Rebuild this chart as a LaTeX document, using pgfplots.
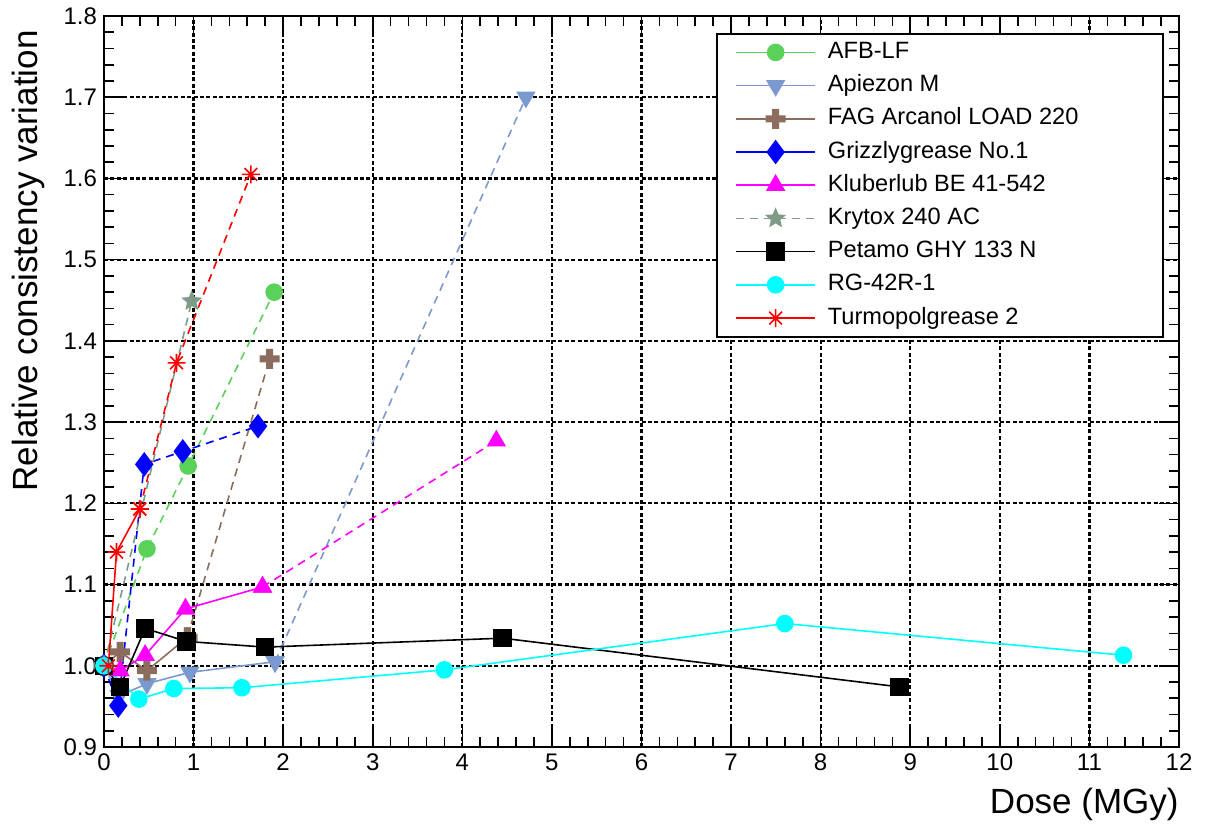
\documentclass[border=0pt]{standalone}
\usepackage{pgfplots}
\pgfplotsset{compat=1.18}
\usepackage{fontspec}
\setmainfont{Liberation Sans}
\usetikzlibrary{plotmarks}

\definecolor{cafb}{RGB}{90,210,90}
\definecolor{capi}{RGB}{122,153,207}
\definecolor{cfag}{RGB}{140,108,92}
\definecolor{cgri}{RGB}{0,0,255}
\definecolor{cklu}{RGB}{255,0,255}
\definecolor{ckry}{RGB}{125,155,135}
\definecolor{cpet}{RGB}{0,0,0}
\definecolor{crg}{RGB}{0,255,255}
\definecolor{ctur}{RGB}{255,0,0}

\pgfdeclareplotmark{fstar}{%
 \pgfpathmoveto{\pgfpointpolar{90}{\pgfplotmarksize}}%
 \pgfpathlineto{\pgfpointpolar{126}{0.45\pgfplotmarksize}}%
 \pgfpathlineto{\pgfpointpolar{162}{\pgfplotmarksize}}%
 \pgfpathlineto{\pgfpointpolar{198}{0.45\pgfplotmarksize}}%
 \pgfpathlineto{\pgfpointpolar{234}{\pgfplotmarksize}}%
 \pgfpathlineto{\pgfpointpolar{270}{0.45\pgfplotmarksize}}%
 \pgfpathlineto{\pgfpointpolar{306}{\pgfplotmarksize}}%
 \pgfpathlineto{\pgfpointpolar{342}{0.45\pgfplotmarksize}}%
 \pgfpathlineto{\pgfpointpolar{18}{\pgfplotmarksize}}%
 \pgfpathlineto{\pgfpointpolar{54}{0.45\pgfplotmarksize}}%
 \pgfpathclose\pgfusepathqfill}

\pgfdeclareplotmark{fplus}{%
 \pgfpathmoveto{\pgfqpoint{-0.35\pgfplotmarksize}{\pgfplotmarksize}}%
 \pgfpathlineto{\pgfqpoint{0.35\pgfplotmarksize}{\pgfplotmarksize}}%
 \pgfpathlineto{\pgfqpoint{0.35\pgfplotmarksize}{0.35\pgfplotmarksize}}%
 \pgfpathlineto{\pgfqpoint{\pgfplotmarksize}{0.35\pgfplotmarksize}}%
 \pgfpathlineto{\pgfqpoint{\pgfplotmarksize}{-0.35\pgfplotmarksize}}%
 \pgfpathlineto{\pgfqpoint{0.35\pgfplotmarksize}{-0.35\pgfplotmarksize}}%
 \pgfpathlineto{\pgfqpoint{0.35\pgfplotmarksize}{-\pgfplotmarksize}}%
 \pgfpathlineto{\pgfqpoint{-0.35\pgfplotmarksize}{-\pgfplotmarksize}}%
 \pgfpathlineto{\pgfqpoint{-0.35\pgfplotmarksize}{-0.35\pgfplotmarksize}}%
 \pgfpathlineto{\pgfqpoint{-\pgfplotmarksize}{-0.35\pgfplotmarksize}}%
 \pgfpathlineto{\pgfqpoint{-\pgfplotmarksize}{0.35\pgfplotmarksize}}%
 \pgfpathlineto{\pgfqpoint{-0.35\pgfplotmarksize}{0.35\pgfplotmarksize}}%
 \pgfpathclose\pgfusepathqfill}

\pgfdeclareplotmark{ast8}{%
 \pgfpathmoveto{\pgfpointpolar{0}{\pgfplotmarksize}}\pgfpathlineto{\pgfpointpolar{180}{\pgfplotmarksize}}%
 \pgfpathmoveto{\pgfpointpolar{45}{\pgfplotmarksize}}\pgfpathlineto{\pgfpointpolar{225}{\pgfplotmarksize}}%
 \pgfpathmoveto{\pgfpointpolar{90}{\pgfplotmarksize}}\pgfpathlineto{\pgfpointpolar{270}{\pgfplotmarksize}}%
 \pgfpathmoveto{\pgfpointpolar{135}{\pgfplotmarksize}}\pgfpathlineto{\pgfpointpolar{315}{\pgfplotmarksize}}%
 \pgfusepathqstroke}

\pgfplotsset{
 sAFB/.style={color=cafb, line width=0.8pt, mark=*, mark size=4pt},
 sAPI/.style={color=capi, line width=0.8pt, mark=triangle*, mark size=4.8pt, mark options={rotate=180}},
 sFAG/.style={color=cfag, line width=0.8pt, mark=fplus, mark size=5pt},
 sGRI/.style={color=cgri, line width=0.8pt, mark=diamond*, mark size=5.5pt},
 sKLU/.style={color=cklu, line width=0.8pt, mark=triangle*, mark size=4.8pt},
 sKRY/.style={color=ckry, line width=0.8pt, mark=fstar, mark size=5.5pt},
 sPET/.style={color=cpet, line width=0.8pt, mark=square*, mark size=4.2pt},
 sRG/.style={color=crg, line width=0.8pt, mark=*, mark size=4pt},
 sTUR/.style={color=ctur, line width=0.8pt, mark=ast8, mark size=4.5pt},
 dsh/.style={dash pattern=on 4pt off 3pt},
}

\begin{document}
\begin{tikzpicture}
\begin{axis}[
 scale only axis, width=537.5pt, height=365.5pt,
 xmin=0, xmax=12, ymin=0.9, ymax=1.8,
 xtick={0,1,2,3,4,5,6,7,8,9,10,11,12},
 ytick={0.9,1.0,1.1,1.2,1.3,1.4,1.5,1.6,1.7,1.8},
 minor x tick num=4, minor y tick num=4,
 grid=major,
 major grid style={black, line width=1.1pt, dash pattern=on 2pt off 1.2pt},
 axis line style={black, line width=1pt},
 tick style={black, line width=0.8pt},
 major tick length=10pt, minor tick length=5pt,
 yticklabel style={/pgf/number format/.cd, fixed, fixed zerofill, precision=1},
 /pgf/number format/assume math mode=true,
 tick label style={font=\fontsize{12}{14}\selectfont},
 xlabel={Dose (MGy)},
 ylabel={Relative consistency variation},
 label style={font=\fontsize{17.5}{21}\selectfont},
 xlabel style={at={(rel axis cs:1,-0.079)}, anchor=east, inner sep=0pt},
 ylabel style={at={(rel axis cs:-0.0698,0.981)}, anchor=east, inner sep=0pt},
 legend image code/.code={\path (-6pt,0pt); \draw[mark repeat=2,mark phase=2,#1] plot coordinates {(0pt,0pt) (19.75pt,0pt) (39.5pt,0pt)};},
 legend cell align=left,
 legend style={at={(0.986,0.977)}, anchor=north east, draw=black, line width=1pt, fill=white,
   font=\fontsize{11.8}{13}\selectfont, inner xsep=3pt, inner ysep=1pt, row sep=0pt,
   nodes={inner xsep=6pt, inner ysep=2.8pt, text height=8.5pt, text depth=2.5pt}},
 after end axis/.code={\path (rel axis cs:-0.0967,-0.1122) (rel axis cs:1.0279,1.0219);},
]
% AFB-LF
\addplot[sAFB, dsh, mark options={solid}, forget plot] coordinates {(0,1.0) (0.48,1.144) (0.94,1.246) (1.90,1.460)};
% Apiezon M
\addplot[sAPI, forget plot] coordinates {(0,1.0) (0.17,0.963) (0.48,0.978) (0.96,0.992) (1.91,1.005)};
\addplot[sAPI, dsh, mark options={solid,rotate=180}, forget plot] coordinates {(1.91,1.005) (4.71,1.700)};
% FAG
\addplot[sFAG, forget plot] coordinates {(0,1.0) (0.18,1.017) (0.48,0.994) (0.93,1.035)};
\addplot[sFAG, dsh, mark options={solid}, forget plot] coordinates {(0.93,1.035) (1.85,1.378)};
% Grizzly
\addplot[sGRI, dsh, mark options={solid}, forget plot] coordinates {(0,1.0) (0.16,0.951) (0.45,1.248) (0.88,1.264) (1.72,1.295)};
% Kluberlub
\addplot[sKLU, forget plot] coordinates {(0,1.0) (0.18,0.994) (0.46,1.013) (0.91,1.070) (1.77,1.097)};
\addplot[sKLU, dsh, mark options={solid}, forget plot] coordinates {(1.77,1.097) (4.38,1.277)};
% Krytox
\addplot[sKRY, dsh, mark options={solid}, forget plot] coordinates {(0,1.0) (0.98,1.449)};
% Petamo
\addplot[sPET, forget plot] coordinates {(0,1.0) (0.18,0.974) (0.46,1.046) (0.92,1.030) (1.80,1.023) (4.45,1.034) (8.88,0.974)};
% RG-42R-1
\addplot[sRG, forget plot] coordinates {(0,1.0) (0.39,0.959) (0.78,0.972) (1.54,0.973) (3.80,0.995) (7.60,1.052) (11.38,1.013)};
% Turmopolgrease
\addplot[sTUR, forget plot] coordinates {(0.05,1.0) (0.14,1.140) (0.40,1.193)};
\addplot[sTUR, dsh, mark options={solid}, forget plot] coordinates {(0.40,1.193) (0.81,1.373) (1.64,1.605)};

\addlegendimage{sAFB}\addlegendentry{\makebox[158.5pt][l]{AFB-LF}}
\addlegendimage{sAPI}\addlegendentry{Apiezon M}
\addlegendimage{sFAG}\addlegendentry{FAG Arcanol LOAD 220}
\addlegendimage{sGRI}\addlegendentry{Grizzlygrease No.1}
\addlegendimage{sKLU}\addlegendentry{Kluberlub BE 41-542}
\addlegendimage{sKRY, dsh, mark options={solid}}\addlegendentry{Krytox 240 AC}
\addlegendimage{sPET}\addlegendentry{Petamo GHY 133 N}
\addlegendimage{sRG}\addlegendentry{RG-42R-1}
\addlegendimage{sTUR}\addlegendentry{Turmopolgrease 2}
\end{axis}
\end{tikzpicture}
\end{document}
